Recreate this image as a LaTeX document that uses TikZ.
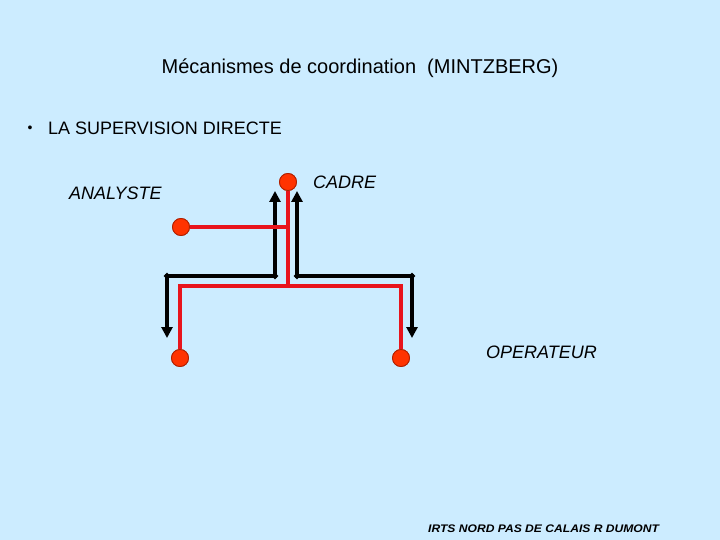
\documentclass[tikz,border=0pt]{standalone}
\usepackage{fontspec}
\setmainfont{Liberation Sans}
\usetikzlibrary{arrows.meta,shapes.geometric}
\definecolor{bg}{HTML}{CCECFF}
\definecolor{redline}{HTML}{E8141C}
\definecolor{dotfill}{HTML}{FF3300}
\definecolor{dotedge}{HTML}{B02000}
\tikzset{
  actor/.style={circle,fill=dotfill,draw=dotedge,line width=0.8pt,minimum size=17pt,inner sep=0pt},
  redlink/.style={draw=redline,line width=4pt},
  blacklink/.style={draw=black,line width=3.8pt,{Triangle[length=11pt,width=11pt]}-{Triangle[length=11pt,width=11pt]}},
  corner/.style={diamond,fill=black,inner sep=0pt,minimum size=7pt},
  lbl/.style={font=\fontsize{18}{21}\selectfont\itshape,anchor=west,inner sep=0pt},
}
\begin{document}
\begin{tikzpicture}[x=1pt,y=-1pt]
\fill[bg] (0,0) rectangle (720,540);
\useasboundingbox (0,0) rectangle (720,540);
% texts
\node[font=\fontsize{20}{24}\selectfont,inner sep=0pt] (title) at (360,68) {Mécanismes de coordination\ \ (MINTZBERG)};
\node[font=\fontsize{14}{16}\selectfont,inner sep=0pt] (bullet) at (30,129) {•};
\node[font=\fontsize{18}{21}\selectfont,inner sep=0pt,anchor=west] (sup) at (48,128) {LA SUPERVISION DIRECTE};
\node[lbl] (tanalyste) at (69,193) {ANALYSTE};
\node[lbl] (tcadre) at (313,182) {CADRE};
\node[lbl] (toper) at (486,352) {OPERATEUR};
\node[font=\fontsize{11}{13}\selectfont\bfseries\itshape,inner sep=0pt,anchor=west] (foot) at (428,529) {\scalebox{1.1}[1]{IRTS NORD PAS DE CALAIS R DUMONT}};
% coordinates
\coordinate (rj) at (288,286);
\coordinate (ra) at (288,227);
\coordinate (lc) at (167,276);
\coordinate (lm) at (275,276);
\coordinate (lt) at (275,191);
\coordinate (lb) at (167,338);
\coordinate (rc) at (412,276);
\coordinate (rm) at (297,276);
\coordinate (rt) at (297,191);
\coordinate (rb) at (412,338);
% black arrows
\draw[blacklink] (lb) -- (lc) -- (lm) -- (lt);
\draw[blacklink] (rb) -- (rc) -- (rm) -- (rt);
\foreach \c in {lc,lm,rc,rm} \node[corner] at (\c) {};
% red links
\node[actor] (cadre) at (288,182) {};
\node[actor] (analyste) at (181,227) {};
\node[actor] (opl) at (180,358) {};
\node[actor] (opr) at (401,358) {};
\draw[redlink] (cadre) -- (rj);
\draw[redlink] (analyste.east) -- (ra);
\draw[redlink] (opl) |- (rj) -| (opr);
\node[actor] at (cadre) {};
\node[actor] at (analyste) {};
\node[actor] at (opl) {};
\node[actor] at (opr) {};
\end{tikzpicture}
\end{document}
